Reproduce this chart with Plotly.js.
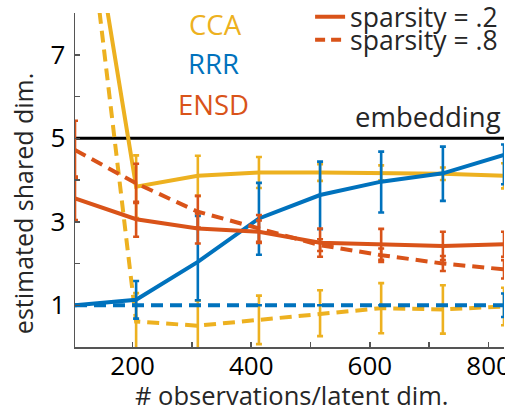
<!DOCTYPE html>
<html>
<head>
<meta charset="utf-8">
<script src="https://cdn.plot.ly/plotly-3.0.1.min.js"></script>
<style>html,body{margin:0;padding:0;background:#fff;}#chart{width:505px;height:408px;}</style>
</head>
<body>
<div id="chart"></div>
<script>
// ---- data ----
const obsPerLatent = [103, 206, 310, 413, 516, 619, 723, 826];

const cca02 = [12.8, 3.84, 4.10, 4.18, 4.18, 4.17, 4.15, 4.10];
const cca02Err = [0, 0.75, 0.48, 0.37, 0.20, 0.18, 0.15, 0.30];
const cca08 = [13.0, 0.61, 0.51, 0.65, 0.81, 0.93, 0.90, 0.97];
const cca08Err = [0, 0.68, 0.60, 0.58, 0.55, 0.60, 0.58, 0.45];

const rrr02 = [1.00, 1.13, 2.04, 3.08, 3.64, 3.96, 4.16, 4.60];
const rrr02ErrPlus = [0, 0.45, 1.10, 0.85, 0.80, 0.72, 0.64, 0.25];
const rrr02ErrMinus = [0, 0.45, 0.92, 0.87, 0.82, 0.74, 0.66, 0.70];
const rrr08 = [1, 1, 1, 1, 1, 1, 1, 1];
const rrr08Err = [0, 0, 0, 0, 0, 0, 0, 0.28];

const ensd02 = [3.56, 3.06, 2.84, 2.76, 2.50, 2.46, 2.42, 2.46];
const ensd02Err = [0.52, 0.42, 0.36, 0.27, 0.34, 0.37, 0.34, 0.30];
const ensd08 = [4.72, 3.92, 3.24, 2.84, 2.44, 2.20, 2.00, 1.86];
const ensd08Err = [0.70, 0.47, 0.38, 0.32, 0.14, 0.16, 0.18, 0.22];

const embeddingDim = 5;

const xTickVals = [100, 200, 300, 400, 500, 600, 700, 800];
const xTickText = ['', '200', '', '400', '', '600', '', '800'];
const yTickVals = [0, 1, 2, 3, 4, 5, 6, 7, 8];
const yTickText = ['', '1', '', '3', '', '5', '', '7', ''];

const methodNames = ['CCA', 'RRR', 'ENSD'];
const legendNames = ['sparsity = .2', 'sparsity = .8'];

// ---- styling ----
const C_CCA = '#EDB120', C_RRR = '#0072BD', C_ENSD = '#D95319';
const FONT = 'Open Sans, Noto Sans, sans-serif';
const DASH = '12px,7px';
const LW = 4;

function series(y, errP, errM, color, dashed) {
  return {
    x: obsPerLatent, y: y, type: 'scatter', mode: 'lines',
    line: {color: color, width: LW, dash: dashed ? DASH : 'solid'},
    error_y: {type: 'data', array: errP, arrayminus: errM || errP, symmetric: !errM,
              color: color, thickness: 2.6, width: 3},
    showlegend: false, hoverinfo: 'skip'
  };
}

const traces = [
  series(cca02, cca02Err, null, C_CCA, false),
  series(cca08, cca08Err, null, C_CCA, true),
  series(rrr02, rrr02ErrPlus, rrr02ErrMinus, C_RRR, false),
  series(rrr08, rrr08Err, null, C_RRR, true),
  series(ensd02, ensd02Err, null, C_ENSD, false),
  series(ensd08, ensd08Err, null, C_ENSD, true),
  {x: [null], y: [null], type: 'scatter', mode: 'lines', name: legendNames[0],
   line: {color: C_ENSD, width: 4}, showlegend: true, legend: 'legend'},
  {x: [null], y: [null], type: 'scatter', mode: 'lines', name: legendNames[1],
   line: {color: C_ENSD, width: 4, dash: '10px,6px'}, showlegend: true, legend: 'legend2'}
];

const txt = '#262626';
const legendStyle = {
  font: {family: FONT, size: 26.5, color: txt}, bgcolor: 'rgba(0,0,0,0)',
  borderwidth: 0, xanchor: 'left', yanchor: 'middle', itemwidth: 30
};

const tickFont = {family: FONT, size: 26, color: '#000'};

const layout = {
  width: 505, height: 408,
  margin: {l: 75, r: 1, t: 13, b: 61, pad: 0, autoexpand: false},
  paper_bgcolor: '#fff', plot_bgcolor: '#fff',
  font: {family: FONT, size: 25, color: '#000'},
  xaxis: {
    range: [103, 826], tickvals: xTickVals, ticktext: xTickText,
    showline: true, linecolor: '#555', linewidth: 1.5,
    ticks: 'inside', ticklen: 5, tickwidth: 1.5, tickcolor: '#555',
    showgrid: false, zeroline: false, tickfont: tickFont,
    ticklabeloverflow: 'allow', ticklabelstandoff: -5
  },
  yaxis: {
    range: [0, 8], tickvals: yTickVals, ticktext: yTickText,
    showline: true, linecolor: '#555', linewidth: 1.5,
    ticks: 'inside', ticklen: 5, tickwidth: 1.5, tickcolor: '#555',
    showgrid: false, zeroline: false, tickfont: tickFont,
    ticklabelstandoff: 3
  },
  shapes: [
    {type: 'line', xref: 'paper', x0: 0, x1: 1, yref: 'y', y0: embeddingDim, y1: embeddingDim,
     line: {color: '#000', width: 2.8}, layer: 'below'}
  ],
  annotations: [
    {text: methodNames[0], x: 340, y: 7.72, xref: 'x', yref: 'y', showarrow: false,
     font: {family: FONT, size: 27.5, color: C_CCA}},
    {text: methodNames[1], x: 336, y: 6.78, xref: 'x', yref: 'y', showarrow: false,
     font: {family: FONT, size: 27.5, color: C_RRR}},
    {text: methodNames[2], x: 337, y: 5.82, xref: 'x', yref: 'y', showarrow: false,
     font: {family: FONT, size: 27.5, color: C_ENSD}},
    {text: 'embedding', x: 0.997, y: 5.52, xref: 'paper', yref: 'y', xanchor: 'right', yanchor: 'middle',
     showarrow: false, font: {family: FONT, size: 27.5, color: txt}},
    {text: '# observations/latent dim.', x: 0.505, y: -0.143, xref: 'paper', yref: 'paper',
     xanchor: 'center', yanchor: 'middle', showarrow: false, font: {family: FONT, size: 25.5, color: txt}},
    {text: 'estimated shared dim.', x: -0.121, y: 0.428, xref: 'paper', yref: 'paper',
     xanchor: 'center', yanchor: 'middle', textangle: -90, showarrow: false,
     font: {family: FONT, size: 25, color: txt}}
  ],
  legend: Object.assign({x: 0.548, y: 0.988}, legendStyle),
  legend2: Object.assign({x: 0.548, y: 0.919}, legendStyle)
};

Plotly.newPlot('chart', traces, layout, {displayModeBar: false, staticPlot: true});
</script>
</body>
</html>
